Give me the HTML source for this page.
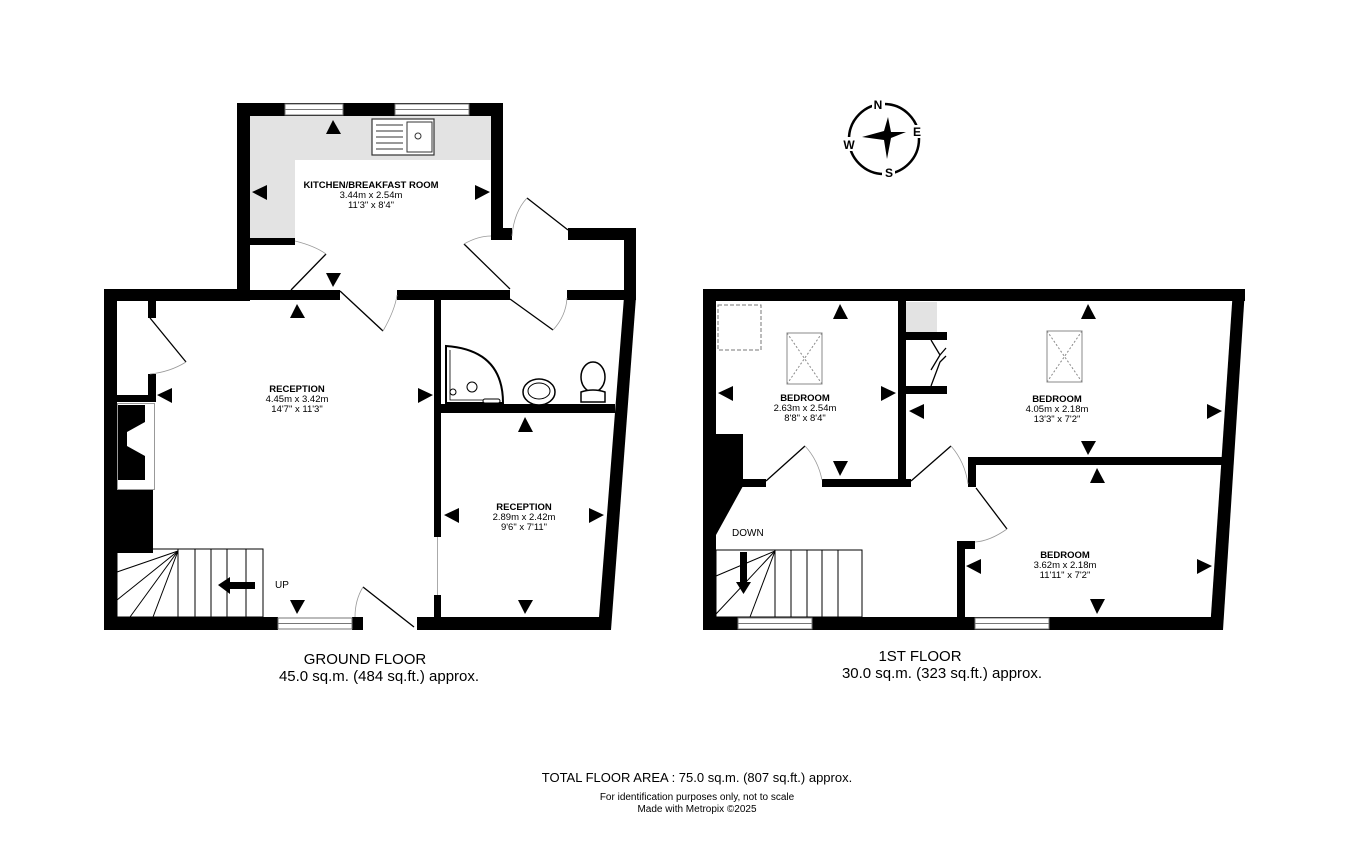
<!DOCTYPE html>
<html><head><meta charset="utf-8"><style>
html,body{margin:0;padding:0;background:#fff;}
svg{display:block;font-family:"Liberation Sans",sans-serif;}
.w{fill:#000}
.lbl{font-size:9.5px;font-weight:bold;text-anchor:middle}
.dim{font-size:9.5px;text-anchor:middle}
</style></head><body>
<svg width="1350" height="861" viewBox="0 0 1350 861" xmlns="http://www.w3.org/2000/svg">
<rect width="1350" height="861" fill="#fff"/>
<!-- ===== GROUND FLOOR ===== -->
<rect x="250" y="116" width="241" height="44" fill="#e3e3e3"/>
<rect x="250" y="160" width="45" height="78" fill="#e3e3e3"/>
<g class="w">
<rect x="237" y="103" width="266" height="13"/>
<rect x="237" y="103" width="13" height="198"/>
<rect x="491" y="103" width="12" height="137"/>
<rect x="491" y="228" width="21" height="12"/>
<rect x="568" y="228" width="68" height="12"/>
<rect x="624" y="228" width="12" height="70"/>
<rect x="250" y="238" width="45" height="7"/>
<rect x="104" y="289" width="146" height="12"/>
<rect x="104" y="289" width="13" height="341"/>
<rect x="250" y="290" width="90" height="10"/>
<rect x="397" y="290" width="113" height="10"/>
<rect x="567" y="290" width="69" height="10"/>
<polygon points="624,297 636,297 611,630 598,630"/>
<rect x="104" y="617" width="174" height="13"/>
<rect x="352" y="617" width="11" height="13"/>
<rect x="417" y="617" width="194" height="13"/>
<rect x="434" y="297" width="7" height="240"/>
<rect x="434" y="595" width="7" height="25"/>
<rect x="441" y="404" width="174" height="9"/>
<rect x="148" y="300" width="8" height="18"/>
<rect x="148" y="374" width="8" height="28"/>
<rect x="117" y="395" width="39" height="7"/>
<rect x="117" y="490" width="36" height="63"/>
<polygon points="117,405 145,405 145,422 127,432 127,446 145,456 145,480 117,480"/>
</g>
<!-- windows -->
<g fill="#fff" stroke="#777" stroke-width="1">
<rect x="285" y="104" width="58" height="11"/><line x1="285" y1="109.5" x2="343" y2="109.5"/>
<rect x="395" y="104" width="74" height="11"/><line x1="395" y1="109.5" x2="469" y2="109.5"/>
<rect x="278" y="618" width="74" height="11"/><line x1="278" y1="623.5" x2="352" y2="623.5"/>
</g>
<line x1="437.5" y1="537" x2="437.5" y2="595" stroke="#aaa"/>
<rect x="117.5" y="403.5" width="37" height="86" fill="none" stroke="#999"/>
<!-- doors -->
<g stroke="#000" stroke-width="1.3" fill="none">
<line x1="291" y1="290" x2="326" y2="254"/>
<line x1="340" y1="291" x2="383" y2="331"/>
<line x1="464" y1="244" x2="510" y2="289"/>
<line x1="527" y1="198" x2="568" y2="230"/>
<line x1="510" y1="299" x2="553" y2="330"/>
<line x1="150" y1="318" x2="186" y2="362"/>
<line x1="363" y1="587" x2="414" y2="627" />
</g>
<g stroke="#999" stroke-width="0.8" fill="none">
<path d="M295,241 Q315,246 326,254"/>
<path d="M383,331 Q395,310 397,295"/>
<path d="M464,244 Q478,236 491,236"/>
<path d="M512,236 Q514,212 527,198"/>
<path d="M553,330 Q566,316 567,298"/>
<path d="M186,362 Q170,372 150,374"/>
<path d="M363,587 Q355,600 355,617"/>
</g>
<!-- sink -->
<rect x="372" y="119" width="62" height="36" fill="#fff" stroke="#333" stroke-width="1.2"/>
<rect x="407" y="122" width="25" height="30" fill="none" stroke="#333"/>
<g stroke="#333"><line x1="376" y1="125" x2="403" y2="125"/><line x1="376" y1="131" x2="403" y2="131"/><line x1="376" y1="137" x2="403" y2="137"/><line x1="376" y1="143" x2="403" y2="143"/><line x1="376" y1="149" x2="403" y2="149"/></g>
<circle cx="418" cy="136" r="3" fill="none" stroke="#333"/>
<!-- bathroom fixtures -->
<path d="M446,346 L446,403 L503,403 Q503,350 446,346 Z" fill="#fff" stroke="#000" stroke-width="2"/>
<path d="M450,350 L450,400 L499,400" fill="none" stroke="#000" stroke-width="0.8"/>
<circle cx="472" cy="387" r="5" fill="#fff" stroke="#000"/>
<circle cx="453" cy="392" r="3" fill="none" stroke="#000"/>
<rect x="483" y="399" width="17" height="4" rx="2" fill="#fff" stroke="#000"/>
<ellipse cx="539" cy="392" rx="16" ry="13" fill="#fff" stroke="#000" stroke-width="1.5"/>
<ellipse cx="539" cy="391" rx="11" ry="8" fill="none" stroke="#000"/>
<ellipse cx="593" cy="377" rx="12" ry="15" fill="#fff" stroke="#000" stroke-width="1.5"/>
<path d="M581,392 Q593,388 605,392 L605,402 L581,402 Z" fill="#fff" stroke="#000" stroke-width="1.5"/>
<!-- stairs ground -->
<g stroke="#000" stroke-width="1" fill="none">
<rect x="117" y="549" width="146" height="68"/>
<line x1="178" y1="549" x2="178" y2="617"/><line x1="195" y1="549" x2="195" y2="617"/><line x1="211" y1="549" x2="211" y2="617"/><line x1="227" y1="549" x2="227" y2="617"/><line x1="246" y1="549" x2="246" y2="617"/>
<line x1="178" y1="551" x2="117" y2="572"/><line x1="178" y1="551" x2="117" y2="600"/><line x1="178" y1="551" x2="130" y2="617"/><line x1="178" y1="551" x2="153" y2="617"/>
</g>
<polygon points="218,585 230,577 230,582 255,582 255,589 230,589 230,594" fill="#000"/>
<text x="275" y="588" font-size="10">UP</text>
<!-- ===== FIRST FLOOR ===== -->
<rect x="906" y="302" width="31" height="30" fill="#e3e3e3"/>
<g class="w">
<rect x="703" y="289" width="542" height="12"/>
<rect x="703" y="289" width="13" height="341"/>
<polygon points="1233,289 1245,289 1223,630 1210,630"/>
<rect x="703" y="617" width="520" height="13"/>
<rect x="898" y="297" width="8" height="190"/>
<rect x="740" y="479" width="26" height="8"/>
<rect x="822" y="479" width="89" height="8"/>
<rect x="906" y="332" width="41" height="8"/>
<rect x="906" y="386" width="41" height="8"/>
<rect x="968" y="457" width="254" height="8"/>
<rect x="968" y="457" width="8" height="30"/>
<rect x="957" y="541" width="8" height="79"/>
<rect x="957" y="541" width="18" height="8"/>
<polygon points="716,434 743,434 743,486 716,535"/>
</g>
<g fill="#fff" stroke="#777" stroke-width="1">
<rect x="738" y="618" width="74" height="11"/><line x1="738" y1="623.5" x2="812" y2="623.5"/>
<rect x="975" y="618" width="74" height="11"/><line x1="975" y1="623.5" x2="1049" y2="623.5"/>
</g>
<g stroke="#000" stroke-width="1.3" fill="none">
<line x1="766" y1="481" x2="805" y2="446"/>
<line x1="911" y1="481" x2="951" y2="446"/>
<line x1="976" y1="488" x2="1007" y2="529"/>
<path d="M931,340 L940,355 L931,370 M940,355 L946,348 M940,362 L946,356 L940,362 L931,386"/>
</g>
<g stroke="#999" stroke-width="0.8" fill="none">
<path d="M805,446 Q818,460 822,480"/>
<path d="M951,446 Q965,462 968,484"/>
<path d="M1007,529 Q990,541 975,542"/>
</g>
<rect x="718" y="305" width="43" height="45" fill="none" stroke="#777" stroke-dasharray="4,2"/>
<g fill="none" stroke="#888"><rect x="787" y="333" width="35" height="51"/><line x1="787" y1="333" x2="822" y2="384" stroke-dasharray="2,2"/><line x1="822" y1="333" x2="787" y2="384" stroke-dasharray="2,2"/>
<rect x="1047" y="331" width="35" height="51"/><line x1="1047" y1="331" x2="1082" y2="382" stroke-dasharray="2,2"/><line x1="1082" y1="331" x2="1047" y2="382" stroke-dasharray="2,2"/></g>
<g stroke="#000" stroke-width="1" fill="none">
<rect x="716" y="550" width="146" height="67"/>
<line x1="775" y1="550" x2="775" y2="617"/><line x1="791" y1="550" x2="791" y2="617"/><line x1="807" y1="550" x2="807" y2="617"/><line x1="822" y1="550" x2="822" y2="617"/><line x1="838" y1="550" x2="838" y2="617"/>
<line x1="775" y1="551" x2="716" y2="576"/><line x1="775" y1="551" x2="716" y2="614"/><line x1="775" y1="551" x2="750" y2="617"/>
</g>
<polygon points="740,552 747,552 747,582 751,582 743.5,594 736,582 740,582" fill="#000"/>
<text x="732" y="536" font-size="10">DOWN</text>
<!-- arrows -->
<g fill="#000">
<polygon points="333,120 326,134 341,134"/>
<polygon points="252,192 267,185 267,200"/>
<polygon points="490,192 475,185 475,200"/>
<polygon points="333,287 326,273 341,273"/>
<polygon points="297,304 290,318 305,318"/>
<polygon points="157,395 172,388 172,403"/>
<polygon points="433,395 418,388 418,403"/>
<polygon points="297,614 290,600 305,600"/>
<polygon points="525,417 518,432 533,432"/>
<polygon points="444,515 459,508 459,523"/>
<polygon points="604,515 589,508 589,523"/>
<polygon points="525,614 518,600 533,600"/>
<polygon points="840,304 833,319 848,319"/>
<polygon points="718,393 733,386 733,401"/>
<polygon points="896,393 881,386 881,401"/>
<polygon points="840,476 833,461 848,461"/>
<polygon points="1088,304 1081,319 1096,319"/>
<polygon points="909,411 924,404 924,419"/>
<polygon points="1222,411 1207,404 1207,419"/>
<polygon points="1088,455 1081,441 1096,441"/>
<polygon points="1097,468 1090,483 1105,483"/>
<polygon points="966,566 981,559 981,574"/>
<polygon points="1212,566 1197,559 1197,574"/>
<polygon points="1097,614 1090,599 1105,599"/>
</g>
<!-- labels -->
<text class="lbl" x="371" y="188">KITCHEN/BREAKFAST ROOM</text>
<text class="dim" x="371" y="198">3.44m  x 2.54m</text>
<text class="dim" x="371" y="208">11'3"  x 8'4"</text>
<text class="lbl" x="297" y="392">RECEPTION</text>
<text class="dim" x="297" y="402">4.45m  x 3.42m</text>
<text class="dim" x="297" y="412">14'7"  x 11'3"</text>
<text class="lbl" x="524" y="510">RECEPTION</text>
<text class="dim" x="524" y="520">2.89m  x 2.42m</text>
<text class="dim" x="524" y="530">9'6"  x 7'11"</text>
<text class="lbl" x="805" y="401">BEDROOM</text>
<text class="dim" x="805" y="411">2.63m  x 2.54m</text>
<text class="dim" x="805" y="421">8'8"  x 8'4"</text>
<text class="lbl" x="1057" y="402">BEDROOM</text>
<text class="dim" x="1057" y="412">4.05m  x 2.18m</text>
<text class="dim" x="1057" y="422">13'3"  x 7'2"</text>
<text class="lbl" x="1065" y="558">BEDROOM</text>
<text class="dim" x="1065" y="568">3.62m  x 2.18m</text>
<text class="dim" x="1065" y="578">11'11"  x 7'2"</text>
<text x="365" y="664" font-size="15" text-anchor="middle">GROUND FLOOR</text>
<text x="379" y="681" font-size="15" text-anchor="middle">45.0 sq.m. (484 sq.ft.) approx.</text>
<text x="920" y="661" font-size="15" text-anchor="middle">1ST FLOOR</text>
<text x="942" y="678" font-size="15" text-anchor="middle">30.0 sq.m. (323 sq.ft.) approx.</text>
<text x="697" y="782" font-size="13" text-anchor="middle">TOTAL FLOOR AREA : 75.0 sq.m. (807 sq.ft.) approx.</text>
<text x="697" y="800" font-size="10" text-anchor="middle">For identification purposes only, not to scale</text>
<text x="697" y="812" font-size="10" text-anchor="middle">Made with Metropix ©2025</text>
<!-- compass -->
<circle cx="884" cy="139" r="35" fill="none" stroke="#000" stroke-width="2.5"/>
<g fill="#fff"><rect x="872" y="98" width="13" height="12"/><rect x="909" y="125" width="12" height="13"/><rect x="843" y="137" width="13" height="14"/><rect x="882" y="166" width="13" height="12"/></g>
<polygon points="888,117 891,132 906,132 891,138 887,159 884,140 862,137 884,131" fill="#000"/>
<text x="878" y="109" font-size="12" font-weight="bold" text-anchor="middle">N</text>
<text x="917" y="136" font-size="12" font-weight="bold" text-anchor="middle">E</text>
<text x="849" y="149" font-size="12" font-weight="bold" text-anchor="middle">W</text>
<text x="889" y="177" font-size="12" font-weight="bold" text-anchor="middle">S</text>
</svg>
</body></html>
